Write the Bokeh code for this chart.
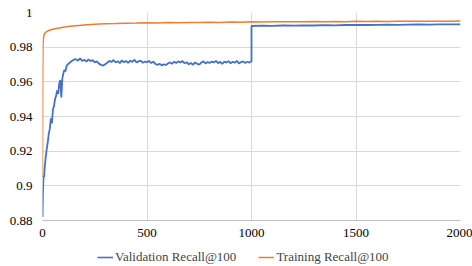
from bokeh.plotting import figure
from bokeh.layouts import column
from bokeh.models import FixedTicker, PrintfTickFormatter, Legend, LegendItem, Range1d
from bokeh.embed import file_html
from bokeh.resources import INLINE

# ---- data ----
val_epochs = [0, 2, 5, 8, 10, 15, 20, 25, 30, 35, 40, 45, 50, 55, 60, 65, 70, 75, 80, 85, 90, 95,
              100, 105, 110, 115, 120, 130, 140, 150,
              160, 170, 180, 190, 200, 210, 220, 230, 240, 250, 260, 270, 280, 290, 300,
              310, 320, 330, 340, 350, 360, 370, 380, 390, 400, 410, 420, 430, 440, 450,
              460, 470, 480, 490, 500, 510, 520, 530, 540, 550, 560, 570, 580, 590, 600,
              610, 620, 630, 640, 650, 660, 670, 680, 690, 700, 710, 720, 730, 740, 750,
              760, 770, 780, 790, 800, 810, 820, 830, 840, 850, 860, 870, 880, 890, 900,
              910, 920, 930, 940, 950, 960, 970, 980, 990, 1000,
              1000, 1050, 1100, 1150, 1200, 1250, 1300, 1350, 1400, 1450, 1500,
              1550, 1600, 1650, 1700, 1750, 1800, 1850, 1900, 1950, 2000]
val_recall = [0.882, 0.896, 0.906, 0.905, 0.910, 0.916, 0.921, 0.925, 0.930, 0.933, 0.939, 0.936,
              0.944, 0.946, 0.950, 0.952, 0.955, 0.953, 0.959, 0.961, 0.951, 0.962,
              0.965, 0.967, 0.966, 0.969, 0.970, 0.971, 0.972, 0.9728,
              0.9731, 0.9722, 0.9735, 0.9720, 0.9728, 0.9716, 0.9730, 0.9719, 0.9725, 0.9712,
              0.9718, 0.9705, 0.9698, 0.9694, 0.9702,
              0.9710, 0.9721, 0.9714, 0.9726, 0.9712, 0.9719, 0.9708, 0.9724, 0.9713, 0.9720,
              0.9709, 0.9722, 0.9715, 0.9728, 0.9711,
              0.9718, 0.9722, 0.9710, 0.9717, 0.9713, 0.9721, 0.9708, 0.9716, 0.9703, 0.9698,
              0.9704, 0.9695, 0.9701, 0.9697, 0.9706,
              0.9712, 0.9704, 0.9716, 0.9709, 0.9718, 0.9711, 0.9720, 0.9707, 0.9713, 0.9701,
              0.9709, 0.9698, 0.9712, 0.9704, 0.9699,
              0.9711, 0.9718, 0.9706, 0.9714, 0.9709, 0.9717, 0.9712, 0.9721, 0.9708, 0.9715,
              0.9703, 0.9717, 0.9711, 0.9719, 0.9707,
              0.9716, 0.9710, 0.9721, 0.9706, 0.9714, 0.9718, 0.9709, 0.9716, 0.9711, 0.9719,
              0.9922, 0.9924, 0.9923, 0.9925, 0.9924, 0.9926, 0.9925, 0.9927, 0.9926, 0.9928, 0.9929,
              0.9928, 0.9929, 0.9930, 0.9929, 0.9930, 0.9931, 0.9930, 0.9931, 0.9931, 0.9932]

train_epochs = [0, 1, 2, 3, 5, 8, 12, 20, 30, 40, 60, 80, 100, 130, 160, 200, 250, 300, 350, 400,
                450, 500, 550, 600, 650, 700, 750, 800, 850, 900, 950, 1000,
                1050, 1100, 1150, 1200, 1250, 1300, 1350, 1400, 1450, 1500,
                1550, 1600, 1650, 1700, 1750, 1800, 1850, 1900, 1950, 2000]
train_recall = [0.905, 0.960, 0.978, 0.983, 0.9855, 0.9872, 0.9882, 0.9890, 0.9896, 0.9900,
                0.9906, 0.9911, 0.9915, 0.9920, 0.9924, 0.9928, 0.9932, 0.9935, 0.9936, 0.9938,
                0.9939, 0.9941, 0.9940, 0.9942, 0.9941, 0.9943, 0.9942, 0.9944, 0.9943, 0.9945,
                0.9944, 0.9946,
                0.9945, 0.9947, 0.9946, 0.9947, 0.9946, 0.9948, 0.9947, 0.9948, 0.9947, 0.9949,
                0.9948, 0.9949, 0.9948, 0.9950, 0.9949, 0.9950, 0.9949, 0.9950, 0.9950, 0.9951]

x_ticks = [0, 500, 1000, 1500, 2000]
y_ticks = [0.88, 0.9, 0.92, 0.94, 0.96, 0.98, 1.0]
series_names = ["Validation Recall@100", "Training Recall@100"]

FONT = "Times New Roman"
FS = "13px"
BLUE = "#4472C4"
ORANGE = "#ED7D31"

# ---- main chart ----
p = figure(width=472, height=246, output_backend="svg", toolbar_location=None,
           x_range=Range1d(0, 2000), y_range=Range1d(0.88, 1.0),
           min_border_left=42, min_border_right=12, min_border_top=12, min_border_bottom=26)
p.outline_line_color = None
p.background_fill_color = "white"
p.border_fill_color = "white"

p.xaxis.ticker = FixedTicker(ticks=x_ticks)
p.yaxis.ticker = FixedTicker(ticks=y_ticks)
p.yaxis.formatter = PrintfTickFormatter(format="%g")
for ax in (p.xaxis, p.yaxis):
    ax.major_tick_line_color = None
    ax.minor_tick_line_color = None
    ax.major_tick_out = 0
    ax.major_tick_in = 0
    ax.major_label_text_font = FONT
    ax.major_label_text_font_size = FS
    ax.major_label_text_color = "#000000"
p.yaxis.axis_line_color = None
p.xaxis.axis_line_color = "#BFBFBF"
p.yaxis.major_label_standoff = 10
p.xaxis.major_label_standoff = 8

p.xgrid.ticker = FixedTicker(ticks=x_ticks)
p.ygrid.ticker = FixedTicker(ticks=y_ticks)
p.grid.grid_line_color = "#D9D9D9"
p.grid.grid_line_width = 1

p.line(val_epochs, val_recall, line_color=BLUE, line_width=1.8)
p.line(train_epochs, train_recall, line_color=ORANGE, line_width=1.5)

# ---- legend strip (same series, drawn outside its visible range) ----
q = figure(width=472, height=20, output_backend="svg", toolbar_location=None,
           x_range=Range1d(0, 2000), y_range=Range1d(0.0, 0.5),
           x_axis_location=None, y_axis_location=None, min_border=0)
q.outline_line_color = None
q.grid.visible = False
q_val = q.line(val_epochs, val_recall, line_color=BLUE, line_width=1.6)
q_train = q.line(train_epochs, train_recall, line_color=ORANGE, line_width=1.5)

legend = Legend(items=[LegendItem(label=series_names[0], renderers=[q_val]),
                       LegendItem(label=series_names[1], renderers=[q_train])],
                orientation="horizontal", location=(55, 1),
                label_text_font=FONT, label_text_font_size=FS,
                glyph_width=16, glyph_height=14, label_standoff=2, spacing=22,
                padding=0, margin=0, border_line_color=None, background_fill_alpha=0)
q.add_layout(legend, "center")

open("out.html", "w").write(file_html(column(p, q, spacing=0), INLINE))
